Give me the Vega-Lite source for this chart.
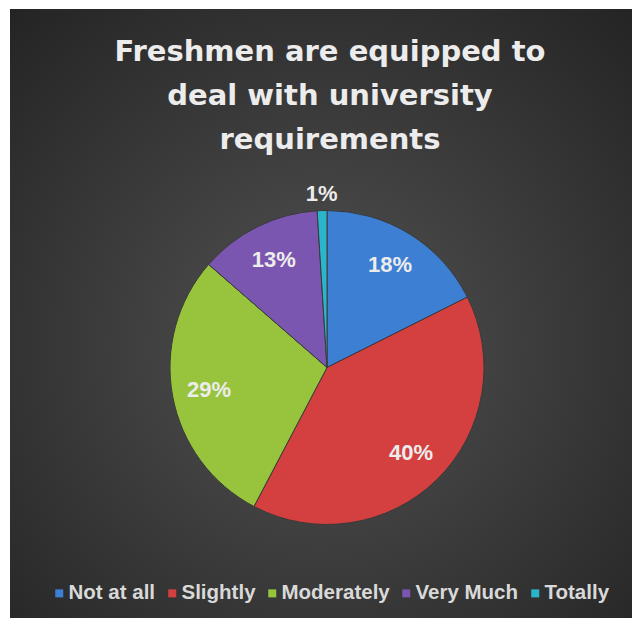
{
  "$schema": "https://vega.github.io/schema/vega-lite/v6.json",
  "width": 632,
  "height": 618,
  "autosize": {"type": "fit", "contains": "padding"},
  "padding": {"left": 10, "top": 9, "right": 0, "bottom": 0},
  "background": "#ffffff",
  "view": {
    "stroke": null,
    "fill": {
      "gradient": "radial",
      "x1": 0.5, "y1": 0.55, "r1": 0,
      "x2": 0.5, "y2": 0.55, "r2": 0.75,
      "stops": [
        {"offset": 0, "color": "#525252"},
        {"offset": 1, "color": "#232323"}
      ]
    }
  },
  "title": {
    "text": ["Freshmen are equipped to", "deal with university", "requirements"],
    "frame": "group",
    "anchor": "middle",
    "orient": "top",
    "offset": -146,
    "dx": 9,
    "font": "DejaVu Sans",
    "fontWeight": "bold",
    "fontSize": 29,
    "lineHeight": 44,
    "color": "#ececec"
  },
  "data": {
    "values": [
      {"category": "Not at all", "share": 0.176},
      {"category": "Slightly", "share": 0.401},
      {"category": "Moderately", "share": 0.287},
      {"category": "Very Much", "share": 0.126},
      {"category": "Totally", "share": 0.010}
    ]
  },
  "transform": [{"window": [{"op": "row_number", "as": "rank"}]}],
  "layer": [
    {
      "mark": {
        "type": "arc",
        "outerRadius": 157,
        "x": {"expr": "width/2 + 6"},
        "y": {"expr": "height/2 + 54"},
        "stroke": "#3a3a3a",
        "strokeWidth": 1
      },
      "encoding": {
        "theta": {"field": "share", "type": "quantitative", "stack": true},
        "order": {"field": "rank", "type": "quantitative"},
        "color": {
          "field": "category",
          "type": "nominal",
          "scale": {
            "domain": ["Not at all", "Slightly", "Moderately", "Very Much", "Totally"],
            "range": ["#3d7fd3", "#d43f3f", "#97c43c", "#7b56b0", "#2bb5cc"]
          },
          "legend": {
            "title": null,
            "orient": "none",
            "direction": "horizontal",
            "columns": 5,
            "legendX": 39,
            "legendY": 574,
            "padding": 0,
            "symbolType": "square",
            "symbolSize": 64,
            "symbolStrokeWidth": 0,
            "symbolOpacity": 1,
            "labelOffset": -1,
            "columnPadding": 6,
            "labelFont": "Liberation Sans",
            "labelFontWeight": "bold",
            "labelFontSize": 20.5,
            "labelColor": "#d9d9d9",
            "labelLimit": 300
          }
        }
      }
    },
    {
      "mark": {
        "type": "text",
        "x": {"expr": "width/2 + 6"},
        "y": {"expr": "height/2 + 54"},
        "radius": 120,
        "font": "Liberation Sans",
        "fontWeight": "bold",
        "fontSize": 22,
        "fill": "#ececec",
        "align": "center",
        "baseline": "middle"
      },
      "encoding": {
        "theta": {"field": "share", "type": "quantitative", "stack": true},
        "order": {"field": "rank", "type": "quantitative"},
        "detail": {"field": "category", "type": "nominal"},
        "text": {
          "condition": {"test": "datum.category === 'Totally'", "value": ""},
          "field": "share", "type": "quantitative", "format": ".0%"
        }
      }
    },
    {
      "mark": {
        "type": "text",
        "x": {"expr": "width/2 + 6"},
        "y": {"expr": "height/2 + 54"},
        "radius": 174,
        "font": "Liberation Sans",
        "fontWeight": "bold",
        "fontSize": 22,
        "fill": "#ececec",
        "align": "center",
        "baseline": "middle"
      },
      "encoding": {
        "theta": {"field": "share", "type": "quantitative", "stack": true},
        "order": {"field": "rank", "type": "quantitative"},
        "detail": {"field": "category", "type": "nominal"},
        "text": {
          "condition": {"test": "datum.category !== 'Totally'", "value": ""},
          "field": "share", "type": "quantitative", "format": ".0%"
        }
      }
    }
  ]
}
